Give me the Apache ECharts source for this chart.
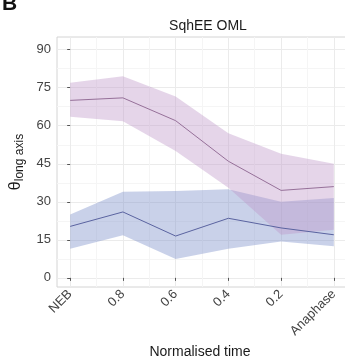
<!DOCTYPE html>
<html>
<head>
<meta charset="utf-8">
<script src="https://cdn.jsdelivr.net/npm/echarts@6/dist/echarts.min.js"></script>
<style>
  html, body { margin: 0; padding: 0; background: #fff; }
  #chart { width: 345px; height: 358px; }
</style>
</head>
<body>
<div id="chart"></div>
<script>
// Time points along the normalised time axis
const categories = ['NEB', '0.8', '0.6', '0.4', '0.2', 'Anaphase'];

// Pink group: mean angle and ribbon bounds (degrees)
const pinkMean  = [70.0, 71.0, 62.0, 46.0, 34.5, 36.0];
const pinkLower = [63.5, 61.8, 50.0, 35.5, 17.0, 19.0];
const pinkUpper = [77.0, 79.5, 71.5, 57.0, 49.0, 45.0];

// Blue group: mean angle and ribbon bounds (degrees)
const blueMean  = [20.3, 26.0, 16.5, 23.5, 19.7, 17.0];
const blueLower = [11.5, 16.8,  7.4, 11.5, 14.3, 12.5];
const blueUpper = [25.0, 34.0, 34.3, 35.0, 30.0, 31.5];

// Axis ticks
const yTicks  = [0, 15, 30, 45, 60, 75, 90];
const yMinor  = [7.5, 22.5, 37.5, 52.5, 67.5, 82.5];
const xTicks  = categories.map((_, i) => i);
const xMinor  = [0.5, 1.5, 2.5, 3.5, 4.5];

const pts = arr => arr.map((v, i) => [i, v]);

const FONT = 'Liberation Sans, Arial, sans-serif';
const TICK_COLOR = '#444';

// Ribbon between lower and upper bounds, drawn as one polygon in data space
function ribbon(lower, upper, fill) {
  return {
    type: 'custom', silent: true, z: 2,
    data: pts(upper),
    encode: { x: 0, y: 1 },
    renderItem(params, api) {
      if (params.dataIndex !== 0) return null;
      const top = upper.map((v, i) => api.coord([i, v]));
      const bottom = lower.map((v, i) => api.coord([i, v])).reverse();
      return {
        type: 'polygon',
        shape: { points: top.concat(bottom) },
        style: { fill }
      };
    }
  };
}

const chart = echarts.init(document.getElementById('chart'), null, { renderer: 'canvas' });

chart.setOption({
  animation: false,
  backgroundColor: '#ffffff',
  title: {
    text: 'SqhEE OML',
    left: 203, top: 14, textAlign: 'center',
    textStyle: { fontFamily: FONT, fontSize: 14, fontWeight: 'normal', color: '#1a1a1a' }
  },
  graphic: [{
    type: 'text', left: 2, top: -6,
    style: { text: 'B', font: 'bold 21px ' + FONT, fill: '#111' }
  }],
  grid: {
    left: 57, top: 37, right: -2, bottom: 71,
    outerBoundsMode: 'none', containLabel: false,
    show: true, borderColor: '#d4d4d4', borderWidth: 1, backgroundColor: '#fff'
  },
  xAxis: [
    {
      type: 'value', min: -0.25, max: 5.25,
      name: 'Normalised time', nameLocation: 'middle', nameGap: 50,
      nameTextStyle: { fontFamily: FONT, fontSize: 14, color: '#1a1a1a', padding: [0, 0, 0, -4] },
      axisLine: { show: false },
      axisTick: { show: true, customValues: xTicks, length: 3, lineStyle: { color: '#555' } },
      axisLabel: {
        customValues: xTicks, rotate: 45, margin: 5,
        formatter: v => categories[v] || '',
        fontFamily: FONT, fontSize: 13, color: TICK_COLOR
      },
      splitLine: { show: true, lineStyle: { color: '#ebebeb', width: 1 } }
    },
    {
      type: 'value', min: -0.25, max: 5.25, position: 'top',
      axisLine: { show: false },
      axisTick: { show: false, customValues: xMinor },
      axisLabel: { show: false, customValues: xMinor },
      splitLine: { show: true, lineStyle: { color: '#f5f5f5', width: 1 } }
    }
  ],
  yAxis: [
    {
      type: 'value', min: -3.6, max: 95,
      name: '{t|θ}{s|long axis}', nameLocation: 'middle', nameGap: 31, nameRotate: 90,
      nameTextStyle: {
        fontFamily: FONT, color: '#1a1a1a',
        rich: {
          t: { fontFamily: FONT, fontSize: 16, color: '#1a1a1a', lineHeight: 20 },
          s: { fontFamily: FONT, fontSize: 12, color: '#1a1a1a', verticalAlign: 'bottom', lineHeight: 13 }
        }
      },
      axisLine: { show: false },
      axisTick: { show: true, customValues: yTicks, length: 3, lineStyle: { color: '#555' } },
      axisLabel: {
        customValues: yTicks, margin: 6,
        fontFamily: FONT, fontSize: 13, color: TICK_COLOR
      },
      splitLine: { show: true, lineStyle: { color: '#ebebeb', width: 1 } }
    },
    {
      type: 'value', min: -3.6, max: 95, position: 'right',
      axisLine: { show: false },
      axisTick: { show: false, customValues: yMinor },
      axisLabel: { show: false, customValues: yMinor },
      splitLine: { show: true, lineStyle: { color: '#f5f5f5', width: 1 } }
    }
  ],
  series: [
    ribbon(blueLower, blueUpper, 'rgba(120,140,200,0.40)'),
    ribbon(pinkLower, pinkUpper, 'rgba(190,150,200,0.40)'),
    {
      type: 'line', data: pts(blueMean), symbol: 'none', silent: true, z: 3,
      lineStyle: { color: '#5a63a0', width: 1 }
    },
    {
      type: 'line', data: pts(pinkMean), symbol: 'none', silent: true, z: 3,
      lineStyle: { color: '#967099', width: 1 }
    }
  ]
});
</script>
</body>
</html>
